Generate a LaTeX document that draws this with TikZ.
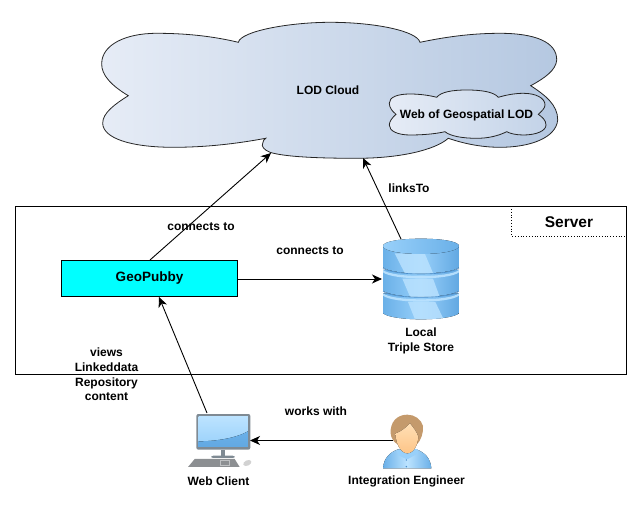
\documentclass[tikz,border=0pt]{standalone}
\usepackage{fontspec}
\setmainfont{Liberation Sans}
\usetikzlibrary{arrows.meta}
\definecolor{cloudL}{HTML}{E6ECF6}
\definecolor{cloudR}{HTML}{B5C8E1}
\definecolor{innerR}{HTML}{C3D3E8}
\definecolor{dbD}{HTML}{6AB0E8}
\definecolor{dbE}{HTML}{62A8E2}
\definecolor{dbL}{HTML}{BCE3FF}
\definecolor{dbM}{HTML}{98D0FA}
\definecolor{dbS}{HTML}{4C8FCC}
\definecolor{pureCyan}{HTML}{00FFFF}
\definecolor{bezel}{HTML}{7F8A93}
\definecolor{kbd}{HTML}{8C8F92}
\definecolor{hair}{HTML}{C49A6C}
\definecolor{face}{HTML}{FDC588}
\definecolor{faceL}{HTML}{FFDFB5}
\tikzset{
  lbl/.style={font=\bfseries\fontsize{12}{14.6}\selectfont,align=center,inner sep=0pt},
  conn/.style={draw=black,line width=0.9pt,-{Stealth[length=10pt,width=9pt,inset=3pt]}},
  cloudline/.style={draw=black!85,line width=0.8pt},
  zoomed/.style={x=0.3333pt,y=-0.3333pt},
  dbside/.style={left color=dbD,right color=dbE,middle color=dbM},
}
\newcommand{\dbtier}[2]{%
  \fill[dbside]
    (15,#1) -- (15,#2) .. controls (45,#2+24) and (213,#2+24) .. (243,#2) -- (243,#1) -- cycle;
  \fill[dbL,opacity=0.9] (15,#1) .. controls (45,#1+24) and (213,#1+24) .. (243,#1) -- (243,#1+7) .. controls (213,#1+31) and (45,#1+31) .. (15,#1+7) -- cycle;
}
\begin{document}
\begin{tikzpicture}[x=1pt,y=-1pt]
\useasboundingbox (0,0) rectangle (642,505);
% outer cloud
\path[cloudline,left color=cloudL,right color=cloudR]
 (238.3,42.3) .. controls (241,31) and (290,22.3) .. (330,22.3)
 .. controls (375,22.3) and (417,31) .. (420,42.3)
 .. controls (450,36) and (475,33.3) .. (500,33.3)
 .. controls (535,33.3) and (557,42) .. (556.7,60)
 .. controls (556,70) and (545,78) .. (530.7,85.7)
 .. controls (545,95) and (558,105) .. (557.7,120)
 .. controls (556,138) and (530,147.3) .. (500,147.3)
 .. controls (480,147.3) and (462,143) .. (448.3,138.3)
 .. controls (435,150) and (400,158.3) .. (356.7,158.3)
 .. controls (320,158.3) and (285,157) .. (270,152.3)
 .. controls (264,150) and (261,146) .. (262.7,143.3)
 .. controls (263,141) and (264,139.5) .. (265.7,138.3)
 .. controls (235,144) and (205,147.3) .. (173.3,147.3)
 .. controls (130,147.3) and (103,138) .. (102.7,123.3)
 .. controls (102.5,113) and (115,104) .. (128.3,95.7)
 .. controls (112,86) and (101,75) .. (101.7,63.3)
 .. controls (102,45) and (125,33.3) .. (156.7,33.3)
 .. controls (185,33.3) and (212,36) .. (238.3,42.3) -- cycle;
\path[cloudline,left color=cloudL,right color=innerR]
 (436.7,97.3) .. controls (441,92) and (452,90) .. (466.7,90)
 .. controls (482,90) and (494,92) .. (498.3,97.3)
 .. controls (506,95) and (515,93.3) .. (523.3,93.3)
 .. controls (536,93.3) and (545,98) .. (545,105)
 .. controls (545,108) and (542,111) .. (538.3,114.3)
 .. controls (542,117) and (546,120) .. (546,125)
 .. controls (546,131) and (536,135) .. (523.3,135)
 .. controls (516,135) and (510,133.5) .. (506.7,131.7)
 .. controls (498,136) and (488,138.3) .. (476.7,138.3)
 .. controls (462,138.3) and (450,136) .. (445,131.7)
 .. controls (435,134) and (422,135) .. (410,135)
 .. controls (398,135) and (389,131) .. (389.3,125)
 .. controls (389.5,121) and (392,118) .. (396,114.3)
 .. controls (392,111) and (389.5,108) .. (389.3,103.3)
 .. controls (389,97) and (398,94) .. (410,94)
 .. controls (420,94) and (430,95.5) .. (436.7,97.3) -- cycle;
\node[lbl] (lod) at (328,90.5) {LOD Cloud};
\node[lbl] (geo) at (466.5,115) {Web of Geospatial LOD};
% server
\draw[black,line width=0.8pt] (15.5,206.5) rectangle (626.5,374.5);
\draw[black,line width=0.8pt,dotted] (511.5,209) -- (511.5,236.3) -- (626,236.3);
\node[lbl,font=\bfseries\fontsize{15.5}{18}\selectfont] (server) at (569,222) {Server};
% geopubby
\node[draw=black,line width=0.8pt,fill=pureCyan,minimum width=176pt,minimum height=36pt,inner sep=0pt,font=\bfseries\fontsize{13.5}{16}\selectfont] (pubby) at (149.5,278.5) {GeoPubby};
% database icon
\begin{scope}[shift={(378,234)},zoomed]
  \dbtier{178}{238}
  \fill[dbL,opacity=0.8] (90,204) -- (172,204) -- (195,252) .. controls (170,256) and (130,256) .. (110,254) -- cycle;
  \dbtier{108}{170}
  \fill[dbL,opacity=0.8] (73,134) -- (165,134) -- (185,188) .. controls (160,191) and (120,191) .. (96,188) -- cycle;
  \draw[dbS,line width=0.6pt] (15,172) .. controls (45,196) and (213,196) .. (243,172);
  \fill[dbside] (15,35) -- (15,100) .. controls (45,124) and (213,124) .. (243,100) -- (243,35) -- cycle;
  \fill[dbL,opacity=0.8] (50,58) -- (140,58) -- (165,117) .. controls (135,120) and (105,120) .. (80,117) -- cycle;
  \draw[dbS,line width=0.6pt] (15,102) .. controls (45,126) and (213,126) .. (243,102);
  \fill[left color=dbM,right color=dbD] (129,14) .. controls (190,14) and (243,22) .. (243,36) .. controls (243,50) and (190,60) .. (129,60) .. controls (68,60) and (15,50) .. (15,36) .. controls (15,22) and (68,14) .. (129,14) -- cycle;
\end{scope}
\coordinate (dbwest) at (382,279);
\coordinate (dbtop) at (401,239);
\node[lbl] (dbl) at (421,341) {Local\\Triple Store};
% computer icon
\begin{scope}[shift={(183,408)},zoomed]
  \fill[bezel,rounded corners=2pt] (40,18) rectangle (202,125);
  \fill[top color=dbL,bottom color=dbM] (47,25) rectangle (195,117);
  \fill[top color=dbD,bottom color=dbE] (47,100) .. controls (100,100) and (160,90) .. (195,70) -- (195,117) -- (47,117) -- cycle;
  \fill[bezel] (113,125) rectangle (127,143);
  \fill[bezel,rounded corners=2pt] (85,143) rectangle (155,150);
  \fill[kbd] (35,153) -- (155,153) -- (170,177) -- (15,177) -- cycle;
  \draw[white,opacity=0.45,line width=0.5pt] (112,157) rectangle (138,172);
  \fill[gray!35,rotate around={25:(193,165)}] (193,165) ellipse[x radius=13,y radius=8];
\end{scope}
\coordinate (pcnorth) at (207,413);
\coordinate (pceast) at (250,440.5);
\node[lbl] (pcl) at (218.5,481) {Web Client};
% person icon
\begin{scope}[shift={(378,410)},zoomed]
  \fill[left color=dbD,right color=dbD,middle color=dbL] (15,175) .. controls (17,145) and (35,127) .. (60,118) -- (115,118) .. controls (140,127) and (158,145) .. (160,175) -- cycle;
  \fill[dbM] (56,122) -- (85,112) -- (118,118) -- (120,130) -- (90,147) -- (84,147) -- (60,135) -- cycle;
  \fill[hair] (88,14) .. controls (55,14) and (36,38) .. (38,70) .. controls (40,92) and (55,105) .. (75,110) -- (115,105) .. controls (130,92) and (137,65) .. (135,48) .. controls (130,28) and (110,14) .. (88,14) -- cycle;
  \fill[top color=faceL,bottom color=face] (96,40) .. controls (75,62) and (60,68) .. (53,70) .. controls (52,98) and (68,130) .. (88,130) .. controls (108,130) and (122,100) .. (120,78) .. controls (116,65) and (105,52) .. (96,40) -- cycle;
  \fill[dbS] (85,150) circle (2.5);
  \fill[dbS] (85,170) circle (2.5);
\end{scope}
\coordinate (perswest) at (393,440.5);
\node[lbl] (persl) at (406.5,481) {Integration Engineer};
% cloud ports
\coordinate (cloudA) at (271,153);
\coordinate (cloudB) at (363,158);
\coordinate (pubbyN) at (150,260);
\coordinate (pubbyS) at (159,297);
% connectors
\draw[conn] (pubbyN) -- (cloudA);
\draw[conn] (dbtop) -- (cloudB);
\draw[conn] (pubby.east |- dbwest) -- (dbwest);
\draw[conn] (pcnorth) -- (pubbyS);
\draw[conn] (perswest) -- (pceast);
% labels
\node[lbl] (l1) at (201,226.5) {connects to};
\node[lbl] (l2) at (310,250.5) {connects to};
\node[lbl] (l3) at (409,188.5) {linksTo};
\node[lbl] (l4) at (106.5,374.5) {views\\Linkeddata\\Repository\\content};
\node[lbl] (l5) at (316,411.5) {works with};
\end{tikzpicture}
\end{document}
